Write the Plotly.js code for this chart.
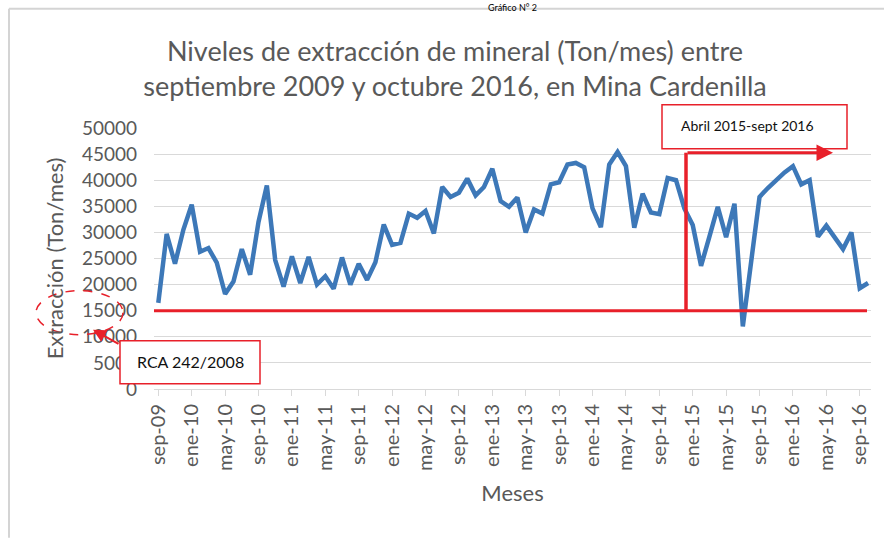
<!DOCTYPE html>
<html>
<head>
<meta charset="utf-8">
<script src="https://cdn.plot.ly/plotly-3.0.1.min.js"></script>
<style>html,body{margin:0;padding:0;background:#fff;}#chart{width:884px;height:538px;}</style>
</head>
<body>
<div id="chart"></div>
<script>
// ---- Data ----
const meses = [
  "sep-09","oct-09","nov-09","dic-09",
  "ene-10","feb-10","mar-10","abr-10","may-10","jun-10","jul-10","ago-10","sep-10","oct-10","nov-10","dic-10",
  "ene-11","feb-11","mar-11","abr-11","may-11","jun-11","jul-11","ago-11","sep-11","oct-11","nov-11","dic-11",
  "ene-12","feb-12","mar-12","abr-12","may-12","jun-12","jul-12","ago-12","sep-12","oct-12","nov-12","dic-12",
  "ene-13","feb-13","mar-13","abr-13","may-13","jun-13","jul-13","ago-13","sep-13","oct-13","nov-13","dic-13",
  "ene-14","feb-14","mar-14","abr-14","may-14","jun-14","jul-14","ago-14","sep-14","oct-14","nov-14","dic-14",
  "ene-15","feb-15","mar-15","abr-15","may-15","jun-15","jul-15","ago-15","sep-15","oct-15","nov-15","dic-15",
  "ene-16","feb-16","mar-16","abr-16","may-16","jun-16","jul-16","ago-16","sep-16","oct-16"
];
const extraccion = [
  16500,29700,24000,30500,
  35300,26300,27000,24200,18200,20600,26800,21900,32000,39000,24700,19600,
  25400,20300,25300,20000,21600,19200,25200,20000,24000,20900,24300,31500,
  27600,28000,33600,32800,34100,29800,38700,36800,37600,40300,37100,38700,
  42200,36000,34900,36700,30000,34400,33600,39200,39600,43000,43300,42500,
  34600,31000,43000,45400,42700,30900,37400,33800,33500,40400,40000,34600,
  31400,23600,29200,34900,29100,35500,12000,24800,36800,38500,40100,41500,
  42700,39200,40000,29200,31300,29200,26800,30000,19300,20300
];
const etiquetasX = ["sep-09","ene-10","may-10","sep-10","ene-11","may-11","sep-11","ene-12","may-12","sep-12","ene-13","may-13","sep-13","ene-14","may-14","sep-14","ene-15","may-15","sep-15","ene-16","may-16","sep-16"];
const valoresY = [0,5000,10000,15000,20000,25000,30000,35000,40000,45000,50000];
const etiquetasY = ["0","5000","10000","15000","20000","25000","30000","35000","40000","45000","50000"];
const limiteRCA = 15000;
const tituloLineas = ["Niveles de extracción de mineral (Ton/mes) entre", "septiembre 2009 y octubre 2016, en Mina Cardenilla"];
const textoPeriodo = "Abril 2015-sept 2016";
const textoRCA = "RCA 242/2008";
const textoGrafico = "Gráfico N° 2";

// ---- Layout helpers (pixel -> paper) ----
const L = 154, R = 871, T = 128.3, B = 389.3;
const px = x => (x - L) / (R - L);
const py = y => (B - y) / (B - T);
const RED = "#E8202A";
const GRAY = "#595959";
const FONT = "Lato, 'Open Sans', sans-serif";

const trace = {
  type: "scatter", mode: "lines",
  x: meses, y: extraccion,
  line: {color: "#3D78B8", width: 4.5},
  hoverinfo: "x+y", showlegend: false
};

const layout = {
  width: 884, height: 538,
  margin: {l: L, r: 884 - R, t: T, b: 538 - B},
  paper_bgcolor: "#ffffff", plot_bgcolor: "#ffffff",
  font: {family: FONT, color: GRAY},
  showlegend: false,
  title: {
    text: tituloLineas.join("<br>"),
    font: {family: FONT, size: 27, color: GRAY},
    x: 455 / 884, xanchor: "center", xref: "container",
    yref: "container", y: 1 - 61 / 538, yanchor: "middle"
  },
  xaxis: {
    type: "category",
    range: [-0.515, 85.35],
    tickmode: "array", tickvals: etiquetasX, ticktext: etiquetasX,
    tickangle: -90,
    tickfont: {family: FONT, size: 20, color: GRAY},
    ticks: "outside", ticklen: 6, tickcolor: "#D9D9D9",
    showline: true, linecolor: "#D9D9D9", linewidth: 1,
    showgrid: false, zeroline: false,
    title: {text: "Meses", font: {family: FONT, size: 22, color: GRAY}, standoff: 15}
  },
  yaxis: {
    range: [0, 50000],
    tickmode: "array", tickvals: valoresY, ticktext: etiquetasY,
    tickfont: {family: FONT, size: 19, color: GRAY},
    ticks: "", showline: false,
    showgrid: true, gridcolor: "#D9D9D9", gridwidth: 1,
    zeroline: false,
    ticklabelstandoff: 16,
    title: {text: "Extracción (Ton/mes)", font: {family: FONT, size: 22, color: GRAY}, standoff: 12}
  },
  shapes: [
    // outer frame (document border)
    {type: "line", xref: "paper", yref: "paper", x0: px(9), x1: px(884), y0: py(9), y1: py(9), line: {color: "#D4D4D4", width: 2}},
    {type: "line", xref: "paper", yref: "paper", x0: px(9), x1: px(9), y0: py(9), y1: py(538), line: {color: "#D4D4D4", width: 2}},
    // RCA limit line
    {type: "line", xref: "paper", yref: "y", x0: 0, x1: px(867), y0: limiteRCA, y1: limiteRCA, line: {color: RED, width: 3}},
    // vertical period marker
    {type: "line", xref: "paper", yref: "paper", x0: px(686), x1: px(686), y0: py(153), y1: py(312), line: {color: RED, width: 3.5}},
    // period label box
    {type: "rect", xref: "paper", yref: "paper", x0: px(662), x1: px(847), y0: py(105), y1: py(149), fillcolor: "#ffffff", line: {color: RED, width: 1.5}},
    // RCA label box
    {type: "rect", xref: "paper", yref: "paper", x0: px(120), x1: px(260), y0: py(341), y1: py(384), fillcolor: "#ffffff", line: {color: RED, width: 1.5}},
    // dashed ellipse around 15000 label
    {type: "circle", xref: "paper", yref: "paper", x0: px(36), x1: px(123), y0: py(291), y1: py(335), line: {color: RED, width: 1.5, dash: "dash"}}
  ],
  annotations: [
    {xref: "paper", yref: "paper", x: px(512), y: py(0), yanchor: "top", xanchor: "center", text: textoGrafico, showarrow: false, font: {family: FONT, size: 9, color: "#000"}},
    {xref: "paper", yref: "paper", x: px(679), y: py(126), xanchor: "left", yanchor: "middle", text: textoPeriodo, showarrow: false, font: {family: FONT, size: 14, color: "#111"}},
    {xref: "paper", yref: "paper", x: px(190), y: py(362), xanchor: "center", yanchor: "middle", text: textoRCA, showarrow: false, font: {family: FONT, size: 16, color: "#111"}},
    // horizontal arrow
    {xref: "paper", yref: "paper", x: px(833), y: py(153), axref: "pixel", ayref: "pixel", ax: -(833 - 686), ay: 0, text: "", showarrow: true, arrowhead: 2, arrowsize: 1.1, arrowwidth: 3, arrowcolor: RED, standoff: 0},
    // RCA arrow
    {xref: "paper", yref: "paper", x: px(93), y: py(330), axref: "pixel", ayref: "pixel", ax: 27, ay: 15, text: "", showarrow: true, arrowhead: 2, arrowsize: 1.3, arrowwidth: 2, arrowcolor: RED, standoff: 0}
  ]
};

Plotly.newPlot("chart", [trace], layout, {displayModeBar: false, staticPlot: true});
</script>
</body>
</html>
